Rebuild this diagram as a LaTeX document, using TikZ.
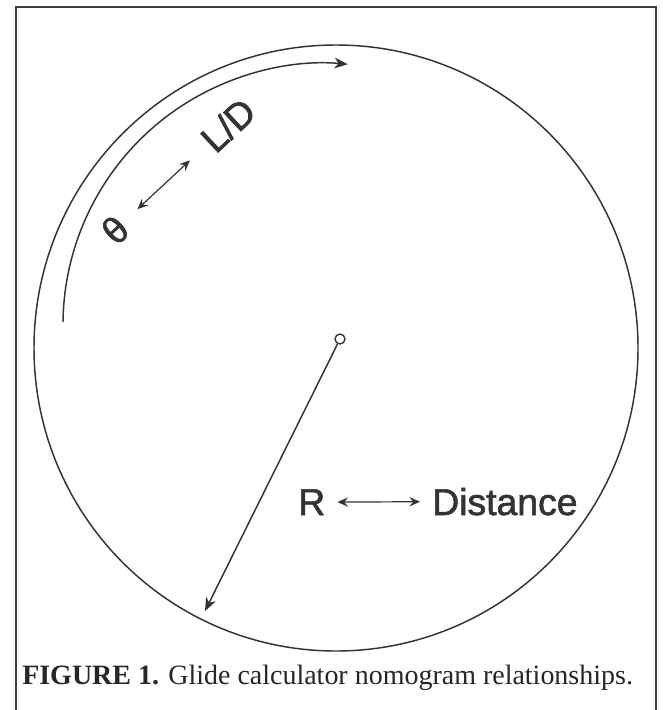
\documentclass[tikz,border=0pt]{standalone}
\usepackage{fontspec}
\usepackage{graphicx}
\newfontface\lblfont[FakeBold=1.6]{Liberation Sans}
\newfontfamily\capfont{Liberation Serif}
\usetikzlibrary{arrows.meta}
\begin{document}
\begin{tikzpicture}[x=0.75pt,y=-0.75pt,
  ink/.style={draw=black!80, line width=1.1pt},
  framestyle/.style={draw=black!75, line width=1.1pt},
  lbl/.style={font=\lblfont\fontsize{28}{28}\selectfont, text=black!80, inner sep=0pt},
  bigtip/.style={-{Stealth[length=10pt,width=8pt,inset=3pt]}},
  dbltip/.style={{Stealth[length=8pt,width=7pt,inset=3pt]}-{Stealth[length=8pt,width=7pt,inset=3pt]}}
]
\useasboundingbox (0,0) rectangle (663,710);
\fill[white] (0,0) rectangle (663,710);
% frame
\draw[framestyle] (16,710) -- (16,7) -- (656,7) -- (656,710);
% outer circle
\coordinate (ctr) at (336,348);
\draw[ink] (ctr) ellipse[x radius=302, y radius=303];
% inner arc
\coordinate (arcstart) at (63,322);
\draw[ink, bigtip] (arcstart) arc[start angle=180.7, end angle=275, radius=262];
% hub and radius
\node[circle, draw=black!80, line width=1pt, fill=white, inner sep=0pt, minimum size=7.5pt] (hub) at (340,339) {};
\coordinate (rim) at (205,611);
\draw[ink, bigtip] (hub) -- (rim);
% labels
\node[lbl, anchor=base west] (R) at (298,515) {R};
\node[lbl, anchor=base west] (dist) at (432,515) {Distance};
\draw[ink, line width=0.9pt, dbltip, shorten <=9pt, shorten >=9pt] (R.east) -- (dist.west);
\node[lbl, rotate=43] (th) at (115,230) {θ};
\node[lbl, rotate=43] (ld) at (228,125) {L/D};
\draw[ink, line width=0.9pt, dbltip, shorten <=23pt, shorten >=39pt] (th.center) -- (ld.center);
% caption
\node[anchor=base west, inner sep=0pt, text=black!85, font=\capfont] (cap) at (22,684) {\resizebox{458pt}{!}{\textbf{FIGURE 1.} Glide calculator nomogram relationships.}};
\end{tikzpicture}
\end{document}
